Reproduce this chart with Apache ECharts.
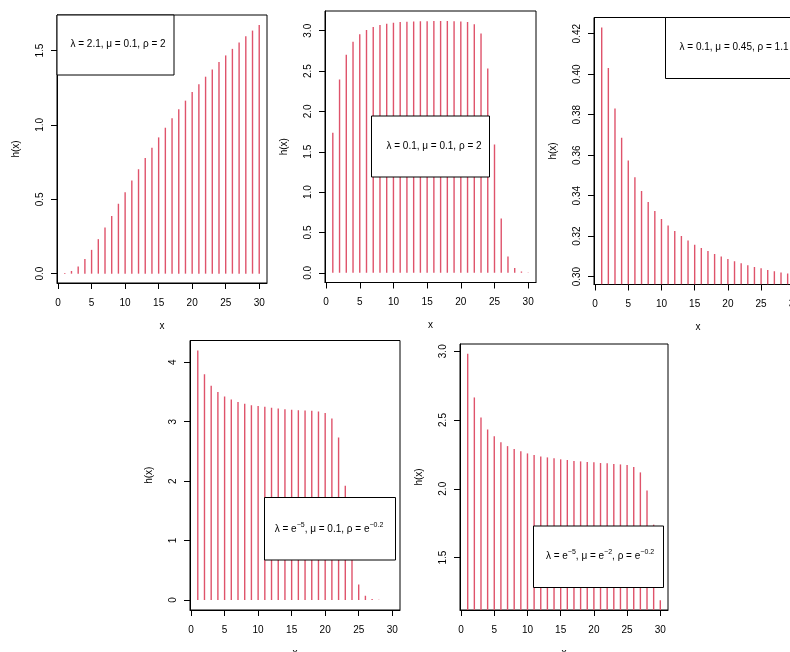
<!DOCTYPE html>
<html><head><meta charset="utf-8">
<script src="https://cdn.jsdelivr.net/npm/echarts@6/dist/echarts.min.js"></script>
<style>html,body{margin:0;padding:0;background:#fff}#c{width:790px;height:652px}</style>
</head><body><div id="c"></div>
<script>
const xs = [1,2,3,4,5,6,7,8,9,10,11,12,13,14,15,16,17,18,19,20,21,22,23,24,25,26,27,28,29,30];
const h1 = [0.004,0.018,0.049,0.098,0.160,0.232,0.310,0.388,0.470,0.548,0.626,0.702,0.778,0.847,0.916,0.981,1.045,1.105,1.163,1.221,1.273,1.324,1.373,1.422,1.467,1.511,1.554,1.596,1.634,1.672];
const h2 = [1.736,2.397,2.702,2.864,2.955,3.008,3.045,3.070,3.087,3.099,3.107,3.112,3.116,3.117,3.118,3.120,3.120,3.120,3.118,3.116,3.107,3.079,2.967,2.533,1.591,0.674,0.202,0.058,0.017,0.004];
const h3 = [0.4231,0.4030,0.3831,0.3686,0.3574,0.3491,0.3423,0.3369,0.3324,0.3285,0.3253,0.3226,0.3201,0.3179,0.3158,0.3142,0.3127,0.3112,0.3099,0.3087,0.3076,0.3066,0.3056,0.3048,0.3041,0.3033,0.3026,0.3020,0.3015,0.3010];
const h4 = [4.196,3.798,3.602,3.496,3.423,3.373,3.328,3.300,3.277,3.261,3.249,3.232,3.221,3.210,3.199,3.193,3.188,3.182,3.171,3.143,3.053,2.734,1.922,0.950,0.263,0.073,0.017,0.006,0.002,0.001];
const h5 = [2.981,2.664,2.519,2.431,2.381,2.339,2.310,2.289,2.272,2.257,2.245,2.235,2.228,2.221,2.214,2.209,2.202,2.199,2.194,2.192,2.187,2.185,2.180,2.177,2.173,2.158,2.119,1.988,1.739,1.190];

const xTicks = [0,5,10,15,20,25,30];
const yTicks1 = [0,0.5,1.0,1.5];
const yTicks2 = [0,0.5,1.0,1.5,2.0,2.5,3.0];
const yTicks3 = [0.30,0.32,0.34,0.36,0.38,0.40,0.42];
const yTicks4 = [0,1,2,3,4];
const yTicks5 = [1.5,2.0,2.5,3.0];
const yDecimals = [1,1,2,0,1];

const legendTexts = [
  'λ = 2.1, μ = 0.1, ρ = 2',
  'λ = 0.1, μ = 0.1, ρ = 2',
  'λ = 0.1, μ = 0.45, ρ = 1.1',
  'λ = e{sup|−5}, μ = 0.1, ρ = e{sup|−0.2}',
  'λ = e{sup|−5}, μ = e{sup|−2}, ρ = e{sup|−0.2}'
];

const series = [h1,h2,h3,h4,h5];
const yTicks = [yTicks1,yTicks2,yTicks3,yTicks4,yTicks5];

// layout (pixels)
const grids = [
  {left:57, top:15, width:210, height:268},
  {left:325, top:11, width:211, height:271.5},
  {left:594, top:17.5, width:208, height:267},
  {left:190, top:340.5, width:210, height:269.5},
  {left:460, top:344, width:208, height:266}
];
const legendBoxes = [
  {x:57, y:15, w:117, h:60, tx:118, ty:44},
  {x:371.5, y:116, w:118, h:61, tx:434, ty:146},
  {x:665.5, y:17.5, w:160, h:61, tx:734, ty:47.5},
  {x:264.5, y:497.5, w:131, h:62.5, tx:329, ty:529},
  {x:533.5, y:526, w:130, h:61.5, tx:600, ty:556}
];

const COLOR = '#DF536B';
function rlim(arr){
  const mn = Math.min(...arr), mx = Math.max(...arr);
  const d = (mx-mn)*0.04;
  return [mn-d, mx+d];
}
const xl = rlim(xs);

const option = {
  animation:false,
  grid: grids.map(g => Object.assign({show:true, borderColor:'#000', borderWidth:1, backgroundColor:'transparent', outerBoundsMode:'none', containLabel:false}, g)),
  xAxis: grids.map((g,i) => ({
    type:'value', gridIndex:i, min:xl[0], max:xl[1],
    name:'x', nameLocation:'middle', nameGap:38,
    nameTextStyle:{fontFamily:'Liberation Sans', fontSize:10, color:'#000'},
    axisLine:{show:true, onZero:false, lineStyle:{color:'#000', width:1}},
    axisTick:{show:true, length:6, customValues:xTicks, lineStyle:{color:'#000'}},
    axisLabel:{show:true, customValues:xTicks, margin:15, fontFamily:'Liberation Sans', fontSize:10, color:'#000', formatter:v=>String(v)},
    splitLine:{show:false}
  })),
  yAxis: grids.map((g,i) => {
    const yl = rlim(series[i]);
    return {
      type:'value', gridIndex:i, min:yl[0], max:yl[1],
      name:'h(x)', nameLocation:'middle', nameGap:36, nameRotate:90,
      nameTextStyle:{fontFamily:'Liberation Sans', fontSize:10, color:'#000'},
      axisLine:{show:true, onZero:false, lineStyle:{color:'#000', width:1}},
      axisTick:{show:true, length:6, customValues:yTicks[i], lineStyle:{color:'#000'}},
      axisLabel:{show:true, customValues:yTicks[i], rotate:90, margin:12, fontFamily:'Liberation Sans', fontSize:10, color:'#000',
        formatter:v=>Number(v).toFixed(yDecimals[i])},
      splitLine:{show:false}
    };
  }),
  series: series.map((arr,i) => {
    const yl = rlim(arr);
    const base = Math.max(0, yl[0]);
    return {
      type:'custom', xAxisIndex:i, yAxisIndex:i, clip:true, z:2,
      data: xs.map((x,k)=>[x, arr[k]]),
      renderItem: function(params, api){
        const p = api.coord([api.value(0), api.value(1)]);
        const b = api.coord([api.value(0), base]);
        return {type:'line', shape:{x1:p[0], y1:b[1], x2:p[0], y2:p[1]}, style:{stroke:COLOR, lineWidth:1.4}};
      }
    };
  }),
  graphic: {elements: legendBoxes.flatMap((L,i) => [
      {type:'rect', z:100, zlevel:1, shape:{x:L.x, y:L.y, width:L.w, height:L.h}, style:{fill:'#fff', stroke:'#000', lineWidth:1}},
      {type:'text', z:101, zlevel:1, x:L.tx, y:L.ty, style:{text:legendTexts[i], align:'center', verticalAlign:'middle',
        fontFamily:'Liberation Sans', fontSize:10, fill:'#000',
        rich:{sup:{fontSize:7, fontFamily:'Liberation Sans', fill:'#000', verticalAlign:'bottom', padding:[0,0,7,0]}}}}
  ])}
};
const chart = echarts.init(document.getElementById('c'), null, {renderer:'canvas'});
chart.setOption(option);
</script>
</body></html>
